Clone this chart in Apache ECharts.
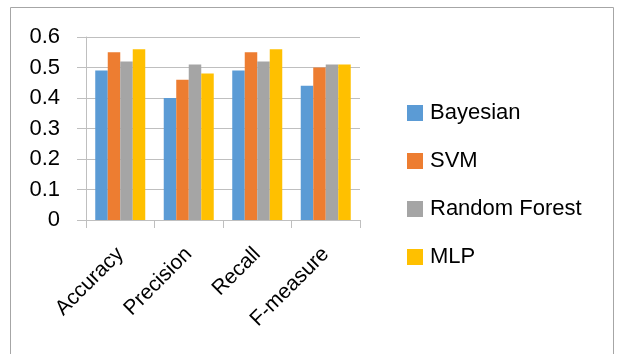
<!DOCTYPE html>
<html>
<head>
<meta charset="utf-8">
<script src="https://cdn.jsdelivr.net/npm/echarts@6/dist/echarts.min.js"></script>
<style>
  html, body { margin: 0; padding: 0; background: #fff; }
  #chart { width: 618px; height: 354px; }
</style>
</head>
<body>
<div id="chart"></div>
<script>
// Evaluation metrics per classifier
const categories = ['Accuracy', 'Precision', 'Recall', 'F-measure'];
const bayesian = [0.49, 0.40, 0.49, 0.44];
const svm = [0.55, 0.46, 0.55, 0.50];
const randomForest = [0.52, 0.51, 0.52, 0.51];
const mlp = [0.56, 0.48, 0.56, 0.51];
const yTicks = { min: 0, max: 0.6, step: 0.1 };

const seriesNames = ['Bayesian', 'SVM', 'Random Forest', 'MLP'];
const seriesValues = [bayesian, svm, randomForest, mlp];
const colors = ['#5B9BD5', '#ED7D31', '#A5A5A5', '#FFC000'];
const font = '"Liberation Sans", Arial, sans-serif';
const gridColor = '#BFBFBF';

const chart = echarts.init(document.getElementById('chart'), null, { renderer: 'canvas' });

chart.setOption({
  animation: false,
  color: colors,
  graphic: [{
    type: 'rect',
    shape: { x: 10.5, y: 7.5, width: 603, height: 360 },
    style: { fill: 'none', stroke: '#A6A6A6', lineWidth: 1 },
    silent: true
  }],
  grid: { left: 86, right: 258, top: 37, bottom: 134, containLabel: false },
  legend: {
    orient: 'vertical',
    left: 402,
    top: 97,
    icon: 'rect',
    itemWidth: 16,
    itemHeight: 16,
    itemGap: 26,
    data: seriesNames,
    textStyle: { fontFamily: font, fontSize: 22, color: '#000', padding: [0, 0, 0, 2] }
  },
  xAxis: {
    type: 'category',
    data: categories,
    boundaryGap: true,
    axisLine: { show: true, lineStyle: { color: gridColor, width: 1 } },
    axisTick: { show: true, length: 8, lineStyle: { color: gridColor } },
    axisLabel: { rotate: 45, margin: 31, fontFamily: font, fontSize: 21, color: '#000', interval: 0 },
    splitLine: { show: false }
  },
  yAxis: {
    type: 'value',
    min: yTicks.min,
    max: yTicks.max,
    interval: yTicks.step,
    axisLine: { show: true, lineStyle: { color: gridColor, width: 1 } },
    axisTick: { show: true, length: 9, lineStyle: { color: gridColor } },
    axisLabel: {
      margin: 26, fontFamily: font, fontSize: 22, color: '#000',
      formatter: v => (Math.round(v * 10) / 10).toString()
    },
    splitLine: { show: true, lineStyle: { color: gridColor, width: 1 } }
  },
  series: seriesNames.map((name, i) => ({
    name,
    type: 'bar',
    data: seriesValues[i],
    barGap: '0%',
    barCategoryGap: '27%'
  }))
});
</script>
</body>
</html>
